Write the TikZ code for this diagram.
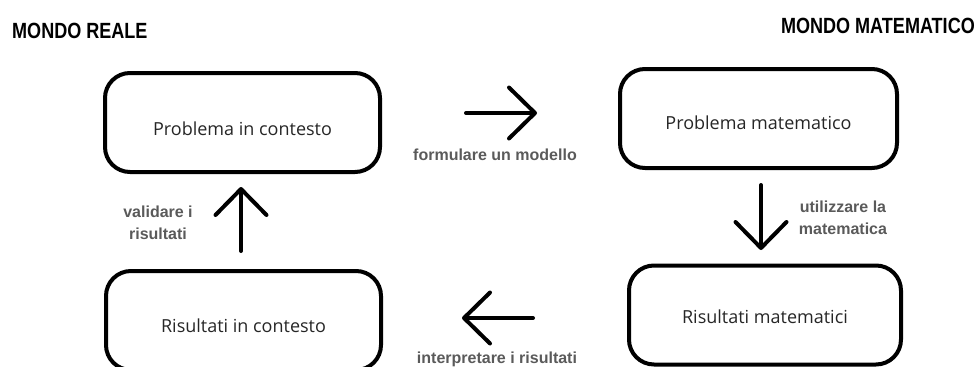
\documentclass[tikz,border=0pt]{standalone}
\usepackage{fontspec}
\setmainfont{Open Sans}
\newfontfamily\headfont[FakeStretch=0.82]{Liberation Sans}
\newfontfamily\labfont{Liberation Sans}
\usetikzlibrary{arrows.meta}
\definecolor{boxtext}{HTML}{262626}
\definecolor{labgrey}{HTML}{5A5A5A}
\tikzset{
  stage/.style={draw=black, line width=4pt, rounded corners=25pt,
    minimum width=#1, minimum height=99pt, inner sep=0pt},
  stagetext/.style={text=boxtext, font=\fontsize{18}{22}\selectfont,
    inner sep=0pt, anchor=base},
  heading/.style={font=\headfont\bfseries\fontsize{22}{26}\selectfont,
    inner sep=0pt},
  steplabel/.style={text=labgrey,
    font=\labfont\bfseries\fontsize{16}{22}\selectfont,
    align=center, inner sep=0pt},
  flow/.style={line width=4pt, line cap=round,
    -{Straight Barb[length=26pt,width=51pt,round]}}
}
\begin{document}
\begin{tikzpicture}[x=1pt,y=-1pt]
  \clip (0,0) rectangle (978,367);

  % world headings
  \node[heading, anchor=base west] (real) at (12,38) {MONDO REALE};
  \node[heading, anchor=base east] (math) at (975,33) {MONDO MATEMATICO};

  % the four stages of the cycle
  \node[stage=275pt] (pc) at (242.5,122.5) {};
  \node[stage=277pt] (pm) at (758.5,118.5) {};
  \node[stage=272pt] (rm) at (765,315) {};
  \node[stage=275pt] (rc) at (243.5,320.5) {};

  \node[stagetext] (pcT) at (242.5,135) {Problema in contesto};
  \node[stagetext] (pmT) at (758.5,129) {Problema matematico};
  \node[stagetext] (rmT) at (765,323) {Risultati matematici};
  \node[stagetext] (rcT) at (243.5,332) {Risultati in contesto};

  % free-standing arrows between the stages
  \coordinate (fmA) at (466,113);
  \coordinate (fmB) at (537,113);
  \coordinate (umA) at (761,185);
  \coordinate (umB) at (761,250);
  \coordinate (irA) at (533,318);
  \coordinate (irB) at (462,318);
  \coordinate (vrA) at (241,251);
  \coordinate (vrB) at (241,187);

  \draw[flow] (fmA) -- (fmB);
  \draw[flow] (umA) -- (umB);
  \draw[flow] (irA) -- (irB);
  \draw[flow] (vrA) -- (vrB);

  % step labels
  \node[steplabel, anchor=base] (fmL) at (495,160) {formulare un modello};
  \node[steplabel, anchor=base] (irL) at (497,363) {interpretare i risultati};
  \node[steplabel] (vrL) at (158,223) {validare i\\risultati};
  \node[steplabel] (umL) at (843,218) {utilizzare la\\matematica};
\end{tikzpicture}
\end{document}
